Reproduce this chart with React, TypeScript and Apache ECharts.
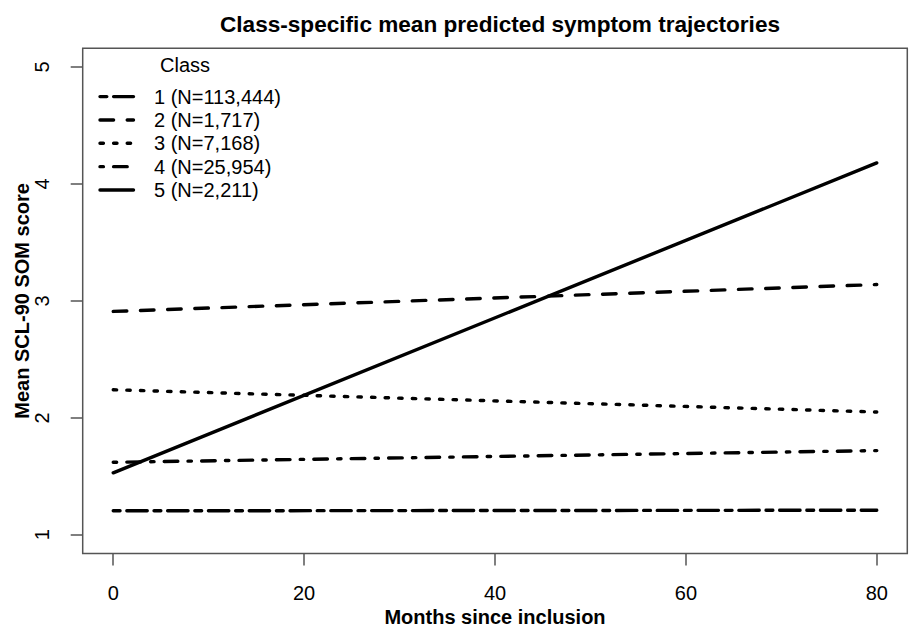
import React, { useEffect, useRef } from "react";
import * as echarts from "echarts";

// ---- data ----
const months = [0, 80];
const classLabels = [
  "1 (N=113,444)",
  "2 (N=1,717)",
  "3 (N=7,168)",
  "4 (N=25,954)",
  "5 (N=2,211)",
];
const class1 = [1.205, 1.21];
const class2 = [2.91, 3.14];
const class3 = [2.24, 2.05];
const class4 = [1.62, 1.72];
const class5 = [1.53, 4.18];
const xTicks = [0, 20, 40, 60, 80];
const yTicks = [1, 2, 3, 4, 5];

// ---- styles ----
const FONT = "'Liberation Sans', Arial, Helvetica, sans-serif";
const LW = 3.4;
const dashes: (number[] | null)[] = [
  [2 * LW, 2 * LW, 6 * LW, 2 * LW], // twodash
  [4 * LW, 4 * LW], // dashed
  [1 * LW, 3 * LW], // dotted
  [1 * LW, 3 * LW, 4 * LW, 3 * LW], // dotdash
  null, // solid
];

const seriesValues = [class1, class2, class3, class4, class5];

// R-style 4% axis extension
const xMin = 0 - 0.04 * 80;
const xMax = 80 + 0.04 * 80;
const yMin = 1 - 0.04 * 4;
const yMax = 5 + 0.04 * 4;

export default function App() {
  const ref = useRef<HTMLDivElement>(null);
  useEffect(() => {
    if (!ref.current) return;
    const chart = echarts.init(ref.current, null, { renderer: "svg" });

    const legendTop = 96.6;
    const legendStep = 23.35;
    const legendGraphics: any[] = [
      {
        type: "text",
        x: 185,
        y: 65,
        style: {
          text: "Class",
          fontSize: 20,
          fontFamily: FONT,
          fill: "#000",
          align: "center",
          verticalAlign: "middle",
          textAlign: "center",
          textVerticalAlign: "middle",
        },
      },
    ];
    classLabels.forEach((label, i) => {
      const y = legendTop + i * legendStep;
      legendGraphics.push({
        type: "line",
        shape: { x1: 100, y1: y, x2: 133.5, y2: y },
        style: {
          stroke: "#000",
          lineWidth: LW,
          lineDash: dashes[i] || undefined,
          lineCap: "round",
        },
      });
      legendGraphics.push({
        type: "text",
        x: 154,
        y,
        style: {
          text: label,
          fontSize: 20,
          fontFamily: FONT,
          fill: "#000",
          align: "left",
          verticalAlign: "middle",
          textAlign: "left",
          textVerticalAlign: "middle",
        },
      });
    });

    chart.setOption({
      animation: false,
      backgroundColor: "#fff",
      title: {
        text: "Class-specific mean predicted symptom trajectories",
        left: 495,
        top: 8,
        textAlign: "center",
        textStyle: {
          fontFamily: FONT,
          fontWeight: "bold",
          fontSize: 22.6,
          color: "#000",
        },
      },
      grid: {
        left: 82.7,
        right: 1.7,
        top: 48.3,
        bottom: 73.5,
        containLabel: false,
        outerBoundsMode: "none",
        show: true,
        borderColor: "#555",
        borderWidth: 1.5,
        backgroundColor: "transparent",
      },
      xAxis: {
        type: "value",
        min: xMin,
        max: xMax,
        name: "Months since inclusion",
        nameLocation: "middle",
        nameGap: 53,
        nameMoveOverlap: false,
        nameTextStyle: {
          fontFamily: FONT,
          fontWeight: "bold",
          fontSize: 20,
          color: "#000",
        },
        axisLine: { show: false, onZero: false },
        splitLine: { show: false },
        axisTick: {
          show: true,
          length: 12,
          inside: false,
          customValues: xTicks,
          lineStyle: { color: "#555", width: 1.5 },
        },
        axisLabel: {
          customValues: xTicks,
          margin: 29,
          fontFamily: FONT,
          fontSize: 20,
          color: "#000",
        },
      },
      yAxis: {
        type: "value",
        min: yMin,
        max: yMax,
        name: "Mean SCL-90 SOM score",
        nameLocation: "middle",
        nameGap: 51,
        nameMoveOverlap: false,
        nameTextStyle: {
          fontFamily: FONT,
          fontWeight: "bold",
          fontSize: 20,
          color: "#000",
        },
        axisLine: { show: false, onZero: false },
        splitLine: { show: false },
        axisTick: {
          show: true,
          length: 12,
          inside: false,
          customValues: yTicks,
          lineStyle: { color: "#555", width: 1.5 },
        },
        axisLabel: {
          customValues: yTicks,
          rotate: 90,
          margin: 31,
          fontFamily: FONT,
          fontSize: 20,
          color: "#000",
        },
      },
      graphic: legendGraphics,
      series: seriesValues.map((vals, i) => ({
        type: "line",
        name: classLabels[i],
        data: months.map((m, j) => [m, vals[j]]),
        symbol: "none",
        showSymbol: false,
        silent: true,
        lineStyle: {
          color: "#000",
          width: LW,
          type: dashes[i] || "solid",
          cap: "round",
        },
      })),
    });

    return () => chart.dispose();
  }, []);

  return (
    <div
      ref={ref}
      style={{ position: "absolute", left: 0, top: 0, width: 909, height: 627 }}
    />
  );
}
